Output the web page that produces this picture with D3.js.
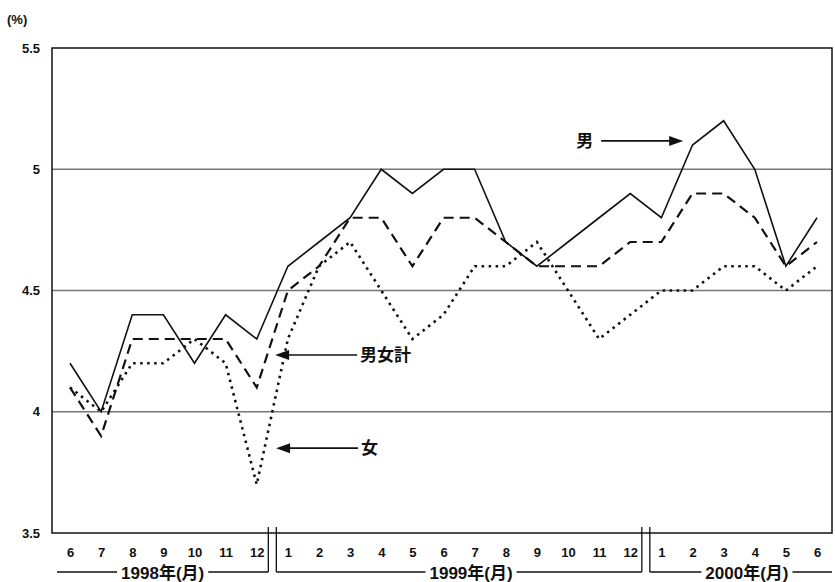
<!DOCTYPE html>
<html>
<head>
<meta charset="utf-8">
<script src="https://cdn.jsdelivr.net/npm/d3@7"></script>
<style>
  html, body { margin: 0; padding: 0; background: #fff; }
  svg { display: block; }
  text { font-family: "Liberation Sans", Arial, "Noto Sans CJK JP", sans-serif; fill: #111; }
</style>
</head>
<body>
<svg id="chart" width="835" height="582"></svg>
<script>
// Month labels (June 1998 .. June 2000)
const months = ["6","7","8","9","10","11","12","1","2","3","4","5","6","7","8","9","10","11","12","1","2","3","4","5","6"];
const yearLabels = ["1998年(月)", "1999年(月)", "2000年(月)"];
const yearStart = [0, 7, 19];   // index of first month of each year
const yearEnd = [6, 18, 24];
const yTicks = [3.5, 4, 4.5, 5, 5.5];
const yTickLabels = ["3.5", "4", "4.5", "5", "5.5"];
const gridValues = [4, 4.5, 5];

// series (unemployment rate, %)
const male   = [4.2,4.0,4.4,4.4,4.2,4.4,4.3, 4.6,4.7,4.8,5.0,4.9,5.0,5.0,4.7,4.6,4.7,4.8,4.9, 4.8,5.1,5.2,5.0,4.6,4.8];
const total  = [4.1,3.9,4.3,4.3,4.3,4.3,4.1, 4.5,4.6,4.8,4.8,4.6,4.8,4.8,4.7,4.6,4.6,4.6,4.7, 4.7,4.9,4.9,4.8,4.6,4.7];
const female = [4.1,4.0,4.2,4.2,4.3,4.2,3.7, 4.3,4.6,4.7,4.5,4.3,4.4,4.6,4.6,4.7,4.5,4.3,4.4, 4.5,4.5,4.6,4.6,4.5,4.6];

const seriesNames = ["男", "男女計", "女"];

const svg = d3.select("#chart");
const plot = { left: 52, right: 832, top: 48, bottom: 533 };

const x = d3.scalePoint().domain(d3.range(months.length)).range([70, 817]);
const y = d3.scaleLinear().domain([3.5, 5.5]).range([plot.bottom, plot.top]);

// gridlines
svg.append("g").selectAll("line").data(gridValues).join("line")
  .attr("x1", plot.left).attr("x2", plot.right)
  .attr("y1", d => y(d)).attr("y2", d => y(d))
  .attr("stroke", "#777").attr("stroke-width", 1.3);

// frame
svg.append("rect")
  .attr("x", plot.left).attr("y", plot.top)
  .attr("width", plot.right - plot.left).attr("height", plot.bottom - plot.top)
  .attr("fill", "none").attr("stroke", "#111").attr("stroke-width", 1.5);

// y axis labels
const yAxis = d3.axisLeft(y).tickValues(yTicks).tickSize(0).tickPadding(12)
  .tickFormat((d, i) => yTickLabels[i]);
const gy = svg.append("g").attr("transform", `translate(${plot.left},0)`).call(yAxis);
gy.select(".domain").remove();
gy.selectAll("text").style("font-size", "13px").style("font-weight", "bold")
  .style("font-family", '"Liberation Sans", Arial, sans-serif').attr("fill", "#111");

svg.append("text").attr("x", 7).attr("y", 24).text("(%)")
  .style("font-size", "13px").style("font-weight", "bold");

// x axis month labels
const xAxis = d3.axisBottom(x).tickSize(0).tickPadding(15).tickFormat(i => months[i]);
const gx = svg.append("g").attr("transform", `translate(0,${plot.bottom})`).call(xAxis);
gx.select(".domain").remove();
gx.selectAll("text").style("font-size", "13px").style("font-weight", "bold")
  .style("font-family", '"Liberation Sans", Arial, sans-serif').attr("fill", "#111");

// year brackets with breaks
const step = x.step();
const bracketY = 572;
const breakTop = 527;
const yearGroups = yearLabels.map((label, k) => {
  const left = k === 0 ? x(yearStart[k]) - 13 : (x(yearStart[k]) + x(yearStart[k] - 1)) / 2 + 4;
  const right = k === yearLabels.length - 1 ? plot.right : (x(yearEnd[k]) + x(yearEnd[k] + 1)) / 2 - 4;
  return { label, left, right, k };
});
const yg = svg.append("g");
yearGroups.forEach(g => {
  const cx = g.k === 0 ? (g.left + g.right) / 2 : g.k === 1 ? (g.left + g.right) / 2 + 12 : (g.left + g.right) / 2 + 6;
  const t = yg.append("text").attr("x", cx).attr("y", bracketY + 7)
    .attr("text-anchor", "middle").text(g.label)
    .style("font-size", "17px").style("font-weight", "bold")
    .style("font-family", '"Liberation Sans", Arial, "Noto Sans CJK JP", sans-serif');
  const w = t.node().getComputedTextLength();
  yg.append("line").attr("x1", g.left).attr("x2", cx - w / 2 - 4)
    .attr("y1", bracketY).attr("y2", bracketY).attr("stroke", "#111").attr("stroke-width", 1.3);
  yg.append("line").attr("x1", cx + w / 2 + 4).attr("x2", g.right)
    .attr("y1", bracketY).attr("y2", bracketY).attr("stroke", "#111").attr("stroke-width", 1.3);
  if (g.k > 0) {
    yg.append("line").attr("x1", g.left).attr("x2", g.left)
      .attr("y1", breakTop).attr("y2", bracketY).attr("stroke", "#111").attr("stroke-width", 1.3);
  }
  if (g.k < yearLabels.length - 1) {
    yg.append("line").attr("x1", g.right).attr("x2", g.right)
      .attr("y1", breakTop).attr("y2", bracketY).attr("stroke", "#111").attr("stroke-width", 1.3);
  }
});

// lines
const line = d3.line().x((d, i) => x(i)).y(d => y(d));
const seriesData = [
  { name: seriesNames[0], values: male, dash: null, width: 1.6 },
  { name: seriesNames[1], values: total, dash: "10,6", width: 2.2 },
  { name: seriesNames[2], values: female, dash: "2.5,4.5", width: 2.6 }
];
svg.append("g").selectAll("path").data(seriesData).join("path")
  .attr("d", d => line(d.values))
  .attr("fill", "none").attr("stroke", "#111")
  .attr("stroke-width", d => d.width)
  .attr("stroke-dasharray", d => d.dash)
  .attr("stroke-linejoin", "miter");

// annotations (tip position in data coordinates)
const annotations = [
  { name: seriesNames[0], tipI: 19.7, tipV: 5.117, dir: 1 },
  { name: seriesNames[1], tipI: 6.59, tipV: 4.234, dir: -1 },
  { name: seriesNames[2], tipI: 6.62, tipV: 3.85, dir: -1 }
];
const ag = svg.append("g");
annotations.forEach(a => {
  const tx = x(0) + a.tipI * step;
  const ty = y(a.tipV);
  const len = 82;
  const tail = tx - a.dir * len;
  ag.append("line").attr("x1", tail).attr("x2", tx - a.dir * 12)
    .attr("y1", ty).attr("y2", ty).attr("stroke", "#111").attr("stroke-width", 1.6);
  ag.append("path")
    .attr("d", `M${tx},${ty} L${tx - a.dir * 14},${ty - 5} L${tx - a.dir * 14},${ty + 5} Z`)
    .attr("fill", "#111");
  ag.append("text")
    .attr("x", a.dir === 1 ? tail - 8 : tail + 3)
    .attr("y", ty + 6)
    .attr("text-anchor", a.dir === 1 ? "end" : "start")
    .text(a.name)
    .style("font-size", "17px").style("font-weight", "bold")
    .style("font-family", '"Noto Sans CJK JP", sans-serif');
});
</script>
</body>
</html>
